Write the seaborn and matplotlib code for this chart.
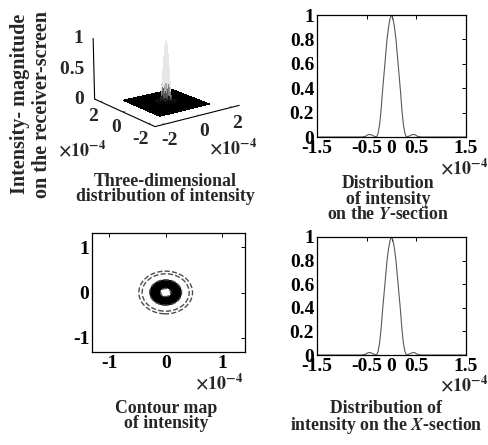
import numpy as np
import pandas as pd
import matplotlib
matplotlib.use("Agg")
import matplotlib.pyplot as plt
import seaborn as sns

# ---- data (positions in units of 1e-4) ----
section_pos = [-1.5, -1.0, -0.6, -0.52, -0.47, -0.42, -0.36, -0.30, -0.27, -0.24,
               -0.21, -0.18, -0.15, -0.12, -0.09, -0.06, -0.03, 0.0, 0.03, 0.06,
               0.09, 0.12, 0.15, 0.18, 0.21, 0.24, 0.27, 0.30, 0.36, 0.42, 0.47,
               0.52, 0.6, 1.0, 1.5]
y_section_intensity = [0.0, 0.0, 0.0, 0.006, 0.02, 0.02, 0.008, 0.0, 0.03, 0.10,
                       0.22, 0.38, 0.52, 0.66, 0.80, 0.90, 0.97, 1.0, 0.97, 0.90,
                       0.80, 0.66, 0.52, 0.38, 0.22, 0.10, 0.03, 0.0, 0.008, 0.02,
                       0.02, 0.006, 0.0, 0.0, 0.0]
x_section_intensity = [0.0, 0.0, 0.0, 0.006, 0.02, 0.02, 0.008, 0.0, 0.03, 0.10,
                       0.22, 0.38, 0.52, 0.66, 0.80, 0.90, 0.97, 1.0, 0.97, 0.90,
                       0.80, 0.66, 0.52, 0.38, 0.22, 0.10, 0.03, 0.0, 0.008, 0.02,
                       0.02, 0.006, 0.0, 0.0, 0.0]

section_ticks = [-1.5, -0.5, 0, 0.5, 1.5]
section_tick_labels = ["-1.5", "-0.5", "0", "0.5", "1.5"]
intensity_ticks = [0, 0.2, 0.4, 0.6, 0.8, 1]
intensity_tick_labels = ["0", "0.2", "0.4", "0.6", "0.8", "1"]
contour_ticks = [-1, 0, 1]
filled_levels = [0.03, 0.06, 0.09, 0.12, 0.15, 0.18, 0.21, 0.25, 0.3, 0.35, 0.4,
                 0.45, 0.5, 0.55, 0.6, 0.65, 0.7]
dashed_levels = [0.019, 0.8]
surface_ticks = [-2, 0, 2]
height_ticks = [0, 0.5, 1]
height_tick_labels = ["0", "0.5", "1"]

# ---- style ----
sns.set_style("white")
plt.rcParams["font.family"] = ["Liberation Serif", "DejaVu Serif"]
plt.rcParams["mathtext.fontset"] = "stix"
plt.rcParams["font.weight"] = "bold"
FS = 14      # tick labels
CAP = 12.8   # captions

fig = plt.figure(figsize=(4.88, 4.45), dpi=100)


def px(x0, y0, x1, y1):
    """Axes rectangle from pixel corners (top-left origin)."""
    W, H = 488, 445
    return [x0 / W, 1 - y1 / H, (x1 - x0) / W, (y1 - y0) / H]


def style_2d(ax):
    for s in ax.spines.values():
        s.set_visible(True)
        s.set_color("black")
        s.set_linewidth(0.9)
    ax.tick_params(direction="in", length=3, width=0.7, top=True, right=True,
                   labelsize=FS, pad=2, colors="black")
    ax.set_xlabel("")
    ax.set_ylabel("")


# radial profile of the spot, taken from the positive half of the X-section
pos_arr = np.asarray(section_pos)
r_nodes = pos_arr[pos_arr >= 0]
i_nodes = np.asarray(x_section_intensity)[pos_arr >= 0]

# ---- Y-section profile ----
ax_y = fig.add_axes(px(317, 15, 466, 137))
sns.lineplot(x=section_pos, y=y_section_intensity, ax=ax_y, color="0.35", lw=0.8)
ax_y.set_xlim(-1.5, 1.5)
ax_y.set_ylim(0, 1)
ax_y.set_xticks(section_ticks, section_tick_labels)
ax_y.set_yticks(intensity_ticks, intensity_tick_labels)
style_2d(ax_y)

# ---- X-section profile ----
ax_x = fig.add_axes(px(317, 237, 466, 355))
sns.lineplot(x=section_pos, y=x_section_intensity, ax=ax_x, color="0.35", lw=0.8)
ax_x.set_xlim(-1.5, 1.5)
ax_x.set_ylim(0, 1)
ax_x.set_xticks(section_ticks, section_tick_labels)
ax_x.set_yticks(intensity_ticks, intensity_tick_labels)
style_2d(ax_x)

# ---- contour map ----
g = np.linspace(-1.5, 1.5, 401)
GX, GY = np.meshgrid(g, g)
field = np.interp(np.hypot(GX, GY), r_nodes, i_nodes)
ax_c = fig.add_axes(px(92, 233, 245, 352))
ax_c.contour(GX, GY, field, levels=filled_levels, colors="black",
             linewidths=1.1)
ax_c.contour(GX, GY, field, levels=dashed_levels, colors="0.3",
             linewidths=1.0, linestyles="--")
ax_c.set_xlim(-1.3, 1.4)
ax_c.set_ylim(-1.32, 1.32)
ax_c.set_xticks(contour_ticks, ["-1", "0", "1"])
ax_c.set_yticks(contour_ticks, ["-1", "0", "1"])
style_2d(ax_c)

# ---- 3-D surface ----
ax3 = fig.add_axes(px(47, -4, 281, 152), projection="3d")
s = np.linspace(-1.5, 1.5, 81)
SX, SY = np.meshgrid(s, s)
surf = np.interp(np.hypot(SX, SY), r_nodes, i_nodes)
shade = plt.get_cmap("gray")(np.clip(surf / 0.3, 0, 0.9))
ax3.plot_surface(SX, SY, surf, facecolors=shade, shade=False, linewidth=0,
                 antialiased=False, rstride=1, cstride=1)
ax3.set_xlim(-2.5, 2.5)
ax3.set_ylim(-2.5, 2.5)
ax3.set_zlim(0, 1)
ax3.set_xticks(surface_ticks, ["-2", "0", "2"])
ax3.set_yticks(surface_ticks, ["-2", "0", "2"])
ax3.set_zticks([])
ax3.view_init(elev=16, azim=-127)
ax3.set_box_aspect((1, 1, 0.61))
ax3.grid(False)
for axis in (ax3.xaxis, ax3.yaxis, ax3.zaxis):
    axis.set_pane_color((1, 1, 1, 0))
    axis.line.set_color("black")
    axis.line.set_linewidth(0.8)
    axis._axinfo["tick"]["inward_factor"] = 0.0
    axis._axinfo["tick"]["outward_factor"] = 0.2
    axis.label.set_visible(False)
    axis.offsetText.set_visible(False)
ax3.tick_params(labelsize=FS, pad=-3)
ax3.patch.set_alpha(0)
# height labels along the vertical edge at the left corner of the floor
for zv, zl in zip(height_ticks, height_tick_labels):
    ax3.text(-2.5, 2.5, zv, zl + "  ", ha="right", va="center", fontsize=FS,
             fontweight="bold")

# ---- annotations ----
def ftext(x, y, s, **kw):
    kw.setdefault("ha", "center")
    kw.setdefault("va", "center")
    kw.setdefault("fontsize", CAP)
    fig.text(x / 488, 1 - y / 445, s, **kw)

XT = r"$\times\mathbf{10^{-4}}$"
ftext(488, 168, XT, ha="right", fontsize=13)
ftext(488, 385, XT, ha="right", fontsize=13)
ftext(243, 383, XT, ha="right", fontsize=13)
ftext(58, 150, XT, ha="left", fontsize=13)
ftext(257, 148, XT, ha="right", fontsize=13)

ftext(388, 199, "Distribution\nof intensity\non the $\\mathit{Y}$-section",
      linespacing=0.92)
ftext(386, 418, "Distribution of\nintensity on the $\\mathit{X}$-section",
      linespacing=0.92)
ftext(166, 416, "Contour map\nof intensity", linespacing=0.92)
ftext(165, 189, "Three-dimensional\ndistribution of intensity", linespacing=0.92)
ftext(31, 104, "Intensity- magnitude\non the receiver-screen", rotation=90,
      fontsize=14.5, linespacing=1.15)

fig.savefig("out.png", dpi=100)
